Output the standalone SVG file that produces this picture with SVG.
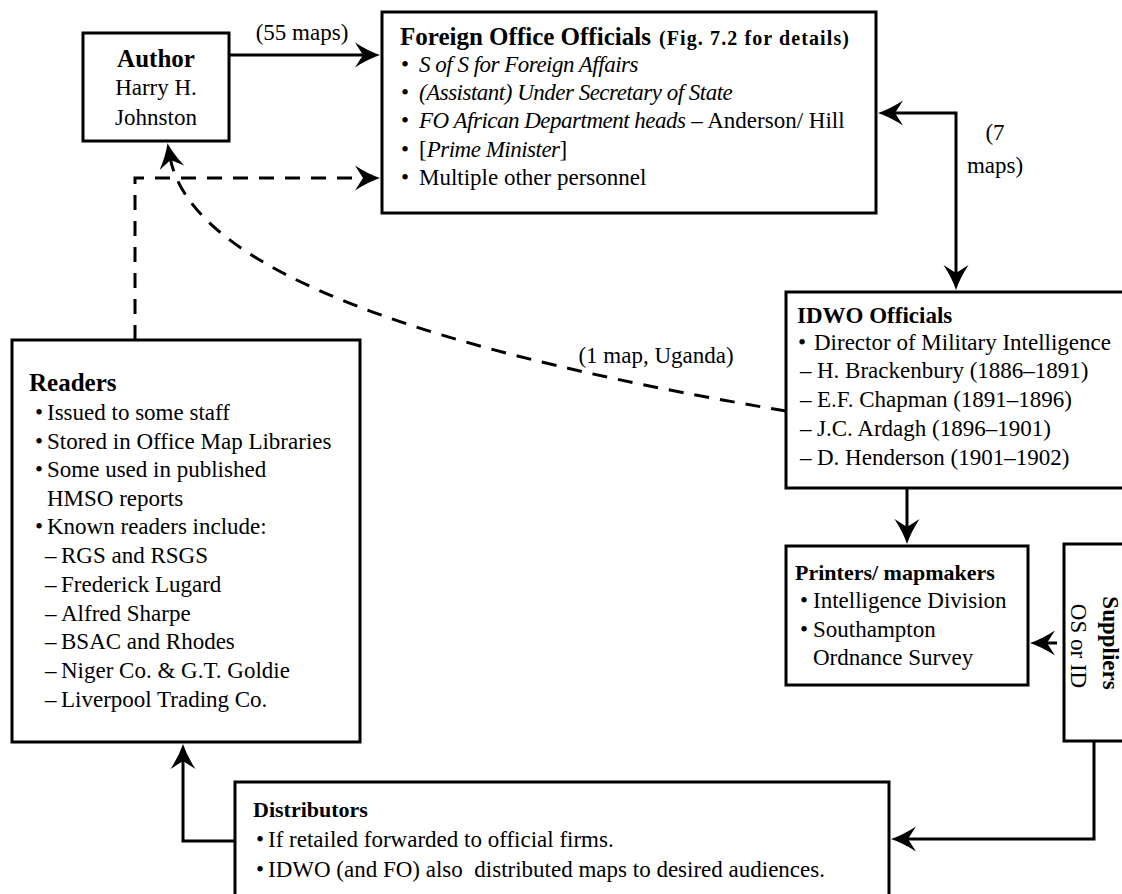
<svg xmlns="http://www.w3.org/2000/svg" width="1122" height="894" viewBox="0 0 1122 894">
  <style>
    text { font-family: "Liberation Serif", "Times New Roman", serif; font-size: 23px; fill: #000; }
    .b { font-weight: bold; }
    .t25 { font-size: 25px; }
    .t22 { font-size: 22px; }
    .i { font-style: italic; letter-spacing: -0.5px; }
    .small { font-size: 20px; letter-spacing: 1.1px; }
    .box { fill: #fff; stroke: #000; stroke-width: 3; }
    .edge { fill: none; stroke: #000; stroke-width: 3; }
    .dash { stroke-dasharray: 15 11; }
    .arrow { marker-end: url(#ah); }
  </style>
  <defs>
    <marker id="ah" viewBox="-12 -14 28 28" refX="0" refY="0" markerWidth="28" markerHeight="28" markerUnits="userSpaceOnUse" orient="auto-start-reverse">
      <path d="M14,0 Q2,-4 -11,-12.5 L-3,0 L-11,12.5 Q2,4 14,0 Z" fill="#000"/>
    </marker>
  </defs>

  <rect width="1122" height="894" fill="#fff"/>

  <!-- connectors -->
  <g id="connectors">
    <path class="edge arrow" d="M229,55 H366"/>
    <path class="edge dash arrow" d="M135,340 V178 H366"/>
    <path class="edge dash arrow" d="M786,411 Q198,313 170,157"/>
    <path class="edge" d="M892,113 H956 V276" marker-start="url(#ah)" marker-end="url(#ah)"/>
    <path class="edge arrow" d="M907,488 V530"/>
    <path class="edge arrow" d="M1057,643 H1044"/>
    <path class="edge arrow" d="M1094,741 V839 H905"/>
    <path class="edge arrow" d="M235,841 H183 V758"/>
    <text x="302" y="40" text-anchor="middle">(55 maps)</text>
    <text x="995" y="140" text-anchor="middle">(7</text>
    <text x="995" y="173" text-anchor="middle">maps)</text>
    <text x="656" y="363" text-anchor="middle">(1 map, Uganda)</text>
  </g>

  <!-- Author -->
  <g id="author">
    <rect class="box" x="83" y="33" width="146" height="108"/>
    <text class="b t25" x="156" y="67" text-anchor="middle">Author</text>
    <text x="156" y="95" text-anchor="middle">Harry H.</text>
    <text x="156" y="125" text-anchor="middle">Johnston</text>
  </g>

  <!-- Foreign Office Officials -->
  <g id="foreign-office">
    <rect class="box" x="382" y="12" width="494" height="201"/>
    <text x="400" y="45"><tspan class="b t25">Foreign Office Officials</tspan><tspan class="b small" x="659">(Fig. 7.2 for details)</tspan></text>
    <text x="401" y="72">•<tspan x="419" class="i">S of S for Foreign Affairs</tspan></text>
    <text x="401" y="100">•<tspan x="419" class="i">(Assistant) Under Secretary of State</tspan></text>
    <text x="401" y="128">•<tspan x="419" class="i">FO African Department heads</tspan> – Anderson/ Hill</text>
    <text x="401" y="157">•<tspan x="419">[</tspan><tspan class="i">Prime Minister</tspan>]</text>
    <text x="401" y="185">•<tspan x="419">Multiple other personnel</tspan></text>
  </g>

  <!-- IDWO Officials -->
  <g id="idwo">
    <rect class="box" x="786" y="292" width="345" height="196"/>
    <text class="b" x="797" y="323">IDWO Officials</text>
    <text x="798" y="350">•<tspan x="814">Director of Military Intelligence</tspan></text>
    <text x="800" y="378">–<tspan x="817">H. Brackenbury (1886–1891)</tspan></text>
    <text x="800" y="407">–<tspan x="817">E.F. Chapman (1891–1896)</tspan></text>
    <text x="800" y="436">–<tspan x="817">J.C. Ardagh (1896–1901)</tspan></text>
    <text x="800" y="465">–<tspan x="817">D. Henderson (1901–1902)</tspan></text>
  </g>

  <!-- Printers / mapmakers -->
  <g id="printers">
    <rect class="box" x="786" y="546" width="242" height="139"/>
    <text class="b t22" x="795" y="580">Printers/ mapmakers</text>
    <text x="800" y="608">•<tspan x="813">Intelligence Division</tspan></text>
    <text x="800" y="637">•<tspan x="813">Southampton</tspan></text>
    <text x="813" y="665">Ordnance Survey</text>
  </g>

  <!-- Suppliers -->
  <g id="suppliers">
    <rect class="box" x="1064" y="544" width="70" height="197"/>
    <text class="b" transform="translate(1103,643) rotate(90)" text-anchor="middle">Suppliers</text>
    <text transform="translate(1071,646) rotate(90)" text-anchor="middle">OS or ID</text>
  </g>

  <!-- Readers -->
  <g id="readers">
    <rect class="box" x="12" y="340" width="348" height="402"/>
    <text class="b t25" x="29" y="391">Readers</text>
    <text x="35" y="420">•<tspan x="47">Issued to some staff</tspan></text>
    <text x="35" y="449">•<tspan x="47">Stored in Office Map Libraries</tspan></text>
    <text x="35" y="477">•<tspan x="47">Some used in published</tspan></text>
    <text x="47" y="506">HMSO reports</text>
    <text x="35" y="534">•<tspan x="47">Known readers include:</tspan></text>
    <text x="45" y="563">–<tspan x="61">RGS and RSGS</tspan></text>
    <text x="45" y="592">–<tspan x="61">Frederick Lugard</tspan></text>
    <text x="45" y="621">–<tspan x="61">Alfred Sharpe</tspan></text>
    <text x="45" y="649">–<tspan x="61">BSAC and Rhodes</tspan></text>
    <text x="45" y="678">–<tspan x="61">Niger Co. &amp; G.T. Goldie</tspan></text>
    <text x="45" y="707">–<tspan x="61">Liverpool Trading Co.</tspan></text>
  </g>

  <!-- Distributors -->
  <g id="distributors">
    <rect class="box" x="235" y="782" width="654" height="130"/>
    <text class="b t22" x="253" y="817">Distributors</text>
    <text x="256" y="847">•<tspan x="268">If retailed forwarded to official firms.</tspan></text>
    <text x="256" y="877">•<tspan x="268" xml:space="preserve">IDWO (and FO) also  distributed maps to desired audiences.</tspan></text>
  </g>
</svg>
